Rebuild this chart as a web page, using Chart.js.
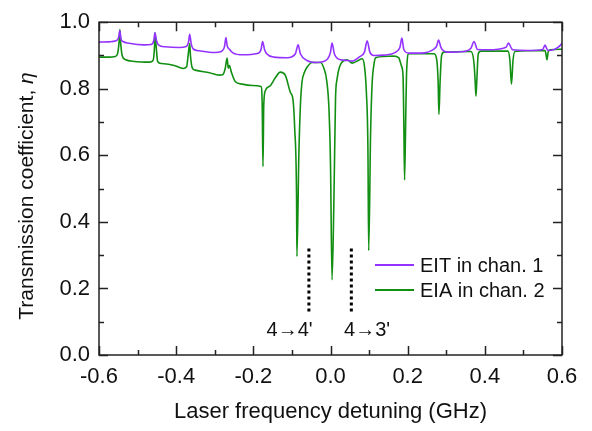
<!DOCTYPE html>
<html>
<head>
<meta charset="utf-8">
<script src="https://cdn.jsdelivr.net/npm/chart.js@4.4.1/dist/chart.umd.min.js"></script>
<style>
  html, body { margin: 0; padding: 0; background: #fff; }
  #wrap { width: 592px; height: 431px; }
</style>
</head>
<body>
<div id="wrap"><canvas id="chart" width="592" height="431"></canvas></div>
<script>
// EIT in chan. 1 (purple), detuning in GHz vs transmission
const eitX = [-0.600, -0.574, -0.556, -0.549, -0.546, -0.543, -0.538, -0.522, -0.483, -0.465,
  -0.458, -0.455, -0.451, -0.446, -0.428, -0.392, -0.374, -0.368, -0.365, -0.361,
  -0.356, -0.340, -0.301, -0.283, -0.275, -0.271, -0.268, -0.262, -0.253, -0.227,
  -0.190, -0.180, -0.176, -0.171, -0.166, -0.147, -0.112, -0.091, -0.084, -0.078,
  -0.061, -0.035, -0.009, 0.000, 0.004, 0.010, 0.026, 0.043, 0.056, 0.074,
  0.088, 0.095, 0.102, 0.112, 0.138, 0.169, 0.180, 0.185, 0.190, 0.203,
  0.234, 0.268, 0.275, 0.280, 0.286, 0.290, 0.303, 0.346, 0.364, 0.372,
  0.381, 0.407, 0.455, 0.461, 0.472, 0.511, 0.550, 0.556, 0.563, 0.580,
  0.597, 0.600]
const eitY = [0.940, 0.941, 0.944, 0.955, 0.975, 0.950, 0.942, 0.937, 0.932, 0.933,
  0.945, 0.968, 0.945, 0.932, 0.926, 0.924, 0.927, 0.940, 0.964, 0.935,
  0.920, 0.914, 0.909, 0.912, 0.925, 0.954, 0.930, 0.919, 0.908, 0.902,
  0.906, 0.918, 0.942, 0.918, 0.906, 0.895, 0.893, 0.905, 0.932, 0.905,
  0.885, 0.879, 0.888, 0.910, 0.937, 0.905, 0.887, 0.885, 0.883, 0.895,
  0.910, 0.944, 0.910, 0.900, 0.901, 0.910, 0.925, 0.952, 0.918, 0.907,
  0.907, 0.919, 0.928, 0.946, 0.925, 0.917, 0.910, 0.912, 0.922, 0.942,
  0.918, 0.917, 0.925, 0.937, 0.917, 0.915, 0.918, 0.931, 0.915, 0.918,
  0.932, 0.937]

// EIA in chan. 2 (green)
const eiaX = [-0.600, -0.574, -0.558, -0.552, -0.548, -0.546, -0.544, -0.540, -0.532, -0.508,
  -0.469, -0.460, -0.456, -0.455, -0.452, -0.448, -0.438, -0.405, -0.382, -0.373,
  -0.369, -0.365, -0.363, -0.358, -0.351, -0.314, -0.288, -0.279, -0.273, -0.268,
  -0.265, -0.262, -0.257, -0.247, -0.229, -0.203, -0.180, -0.177, -0.175, -0.173,
  -0.169, -0.156, -0.143, -0.130, -0.117, -0.104, -0.097, -0.093, -0.088, -0.087,
  -0.082, -0.078, -0.074, -0.068, -0.060, -0.048, -0.026, -0.017, -0.010, -0.004,
  0.000, 0.004, 0.009, 0.013, 0.017, 0.024, 0.035, 0.043, 0.056, 0.069,
  0.082, 0.088, 0.093, 0.097, 0.099, 0.104, 0.108, 0.112, 0.117, 0.138,
  0.164, 0.177, 0.184, 0.188, 0.190, 0.192, 0.195, 0.197, 0.203, 0.268,
  0.275, 0.279, 0.281, 0.284, 0.288, 0.294, 0.364, 0.372, 0.375, 0.377,
  0.379, 0.383, 0.390, 0.460, 0.465, 0.469, 0.473, 0.478, 0.556, 0.559,
  0.561, 0.564, 0.569, 0.600]
const eiaY = [0.895, 0.895, 0.897, 0.905, 0.940, 0.978, 0.940, 0.900, 0.888, 0.882,
  0.880, 0.885, 0.930, 0.968, 0.930, 0.882, 0.876, 0.870, 0.861, 0.866,
  0.900, 0.936, 0.900, 0.862, 0.856, 0.848, 0.841, 0.843, 0.860, 0.892,
  0.862, 0.870, 0.850, 0.822, 0.814, 0.810, 0.807, 0.750, 0.566, 0.750,
  0.794, 0.809, 0.833, 0.850, 0.840, 0.789, 0.765, 0.686, 0.476, 0.296,
  0.603, 0.750, 0.819, 0.848, 0.866, 0.879, 0.879, 0.861, 0.826, 0.740,
  0.574, 0.226, 0.476, 0.770, 0.829, 0.868, 0.885, 0.887, 0.877, 0.883,
  0.890, 0.868, 0.789, 0.620, 0.314, 0.671, 0.819, 0.868, 0.893, 0.897,
  0.898, 0.893, 0.868, 0.838, 0.700, 0.526, 0.715, 0.843, 0.905, 0.905,
  0.890, 0.820, 0.723, 0.820, 0.900, 0.910, 0.912, 0.876, 0.820, 0.778,
  0.820, 0.905, 0.913, 0.913, 0.885, 0.814, 0.885, 0.912, 0.915, 0.900,
  0.887, 0.910, 0.917, 0.919]

// transition markers (dotted lines + labels)
const markerX = [-0.056, 0.054]
const markerY = [0.32, 0.13]
const markerLabels = ['4\u21924\'', '4\u21923\'']
const markerLabelX = [-0.106, 0.095]
const markerLabelY = 0.075

const seriesLabels = ['EIT in chan. 1', 'EIA in chan. 2']
const seriesColors = ['#9433ff', '#128f12']

const xTicks = [-0.6, -0.4, -0.2, 0.0, 0.2, 0.4, 0.6]
const yTicks = [0.0, 0.2, 0.4, 0.6, 0.8, 1.0]

const FONT = "'Liberation Sans', Arial, sans-serif"

function pts(xs, ys) {
  return xs.map((x, i) => ({ x: x, y: ys[i] }))
}

const markerSets = markerX.map(x => ({
  label: '',
  data: [{ x: x, y: markerY[0] }, { x: x, y: markerY[1] }],
  borderColor: '#000',
  borderWidth: 3,
  borderDash: [3, 3],
  pointRadius: 0
}))

// frame with inward ticks, axis titles, marker labels and legend
const framePlugin = {
  id: 'frame',
  afterDraw(chart) {
    const ctx = chart.ctx
    const a = chart.chartArea
    const xs = chart.scales.x
    const ys = chart.scales.y
    ctx.save()
    ctx.strokeStyle = '#222'
    ctx.lineWidth = 1.5
    ctx.strokeRect(a.left, a.top, a.right - a.left, a.bottom - a.top)
    ctx.beginPath()
    for (let v = -6; v <= 6; v++) {
      const px = Math.round(xs.getPixelForValue(v / 10)) + 0.5
      const len = v % 2 === 0 ? 9 : 5
      ctx.moveTo(px, a.bottom); ctx.lineTo(px, a.bottom - len)
      ctx.moveTo(px, a.top); ctx.lineTo(px, a.top + len)
    }
    for (let v = 0; v <= 10; v++) {
      const py = Math.round(ys.getPixelForValue(v / 10)) + 0.5
      const len = v % 2 === 0 ? 9 : 5
      ctx.moveTo(a.left, py); ctx.lineTo(a.left + len, py)
      ctx.moveTo(a.right, py); ctx.lineTo(a.right - len, py)
    }
    ctx.stroke()

    ctx.fillStyle = '#111'
    ctx.textBaseline = 'middle'

    // x title
    ctx.font = '22px ' + FONT
    ctx.textAlign = 'center'
    ctx.fillText('Laser frequency detuning (GHz)', (a.left + a.right) / 2, 412)

    // y title, with italic eta
    ctx.font = '21px ' + FONT
    const main = 'Transmission coefficient, '
    const wMain = ctx.measureText(main).width
    ctx.font = 'italic 21px ' + FONT
    const wEta = ctx.measureText('\u03b7').width
    ctx.save()
    ctx.translate(27, 196)
    ctx.rotate(-Math.PI / 2)
    ctx.textAlign = 'left'
    const start = -(wMain + wEta) / 2
    ctx.font = '21px ' + FONT
    ctx.fillText(main, start, 0)
    ctx.font = 'italic 21px ' + FONT
    ctx.fillText('\u03b7', start + wMain, 0)
    ctx.restore()

    // marker labels
    ctx.font = '20px ' + FONT
    ctx.textAlign = 'center'
    markerLabels.forEach((t, i) => {
      ctx.fillText(t, xs.getPixelForValue(markerLabelX[i]), ys.getPixelForValue(markerLabelY))
    })

    // legend
    ctx.font = '20px ' + FONT
    ctx.textAlign = 'left'
    seriesLabels.forEach((t, i) => {
      const y = 265 + i * 25
      ctx.strokeStyle = seriesColors[i]
      ctx.lineWidth = 1.8
      ctx.beginPath()
      ctx.moveTo(375, y); ctx.lineTo(414, y)
      ctx.stroke()
      ctx.fillStyle = '#111'
      ctx.fillText(t, 420, y + 1)
    })
    ctx.restore()
  }
}

new Chart(document.getElementById('chart'), {
  type: 'line',
  data: {
    datasets: [
      { label: seriesLabels[0], data: pts(eitX, eitY), borderColor: seriesColors[0], borderWidth: 1.6,
        pointRadius: 0, cubicInterpolationMode: 'monotone' },
      { label: seriesLabels[1], data: pts(eiaX, eiaY), borderColor: seriesColors[1], borderWidth: 1.6,
        pointRadius: 0, cubicInterpolationMode: 'monotone' },
      ...markerSets
    ]
  },
  options: {
    responsive: false,
    animation: false,
    layout: { padding: { top: 15, right: 30, left: 0, bottom: 0 } },
    plugins: { legend: { display: false }, tooltip: { enabled: false } },
    scales: {
      x: {
        type: 'linear', min: -0.6, max: 0.6,
        afterBuildTicks: s => { s.ticks = xTicks.map(v => ({ value: v })) },
        afterFit: s => { s.height = 76 },
        grid: { display: false, drawTicks: false },
        border: { display: false },
        ticks: { color: '#111', font: { family: FONT, size: 22 }, padding: 9, maxRotation: 0,
          callback: v => v.toFixed(1) }
      },
      y: {
        type: 'linear', min: 0, max: 1,
        afterBuildTicks: s => { s.ticks = yTicks.map(v => ({ value: v })) },
        afterFit: s => { s.width = 99 },
        grid: { display: false, drawTicks: false },
        border: { display: false },
        ticks: { color: '#111', font: { family: FONT, size: 22 }, padding: 9,
          callback: v => v.toFixed(1) }
      }
    }
  },
  plugins: [framePlugin]
})
</script>
</body>
</html>
